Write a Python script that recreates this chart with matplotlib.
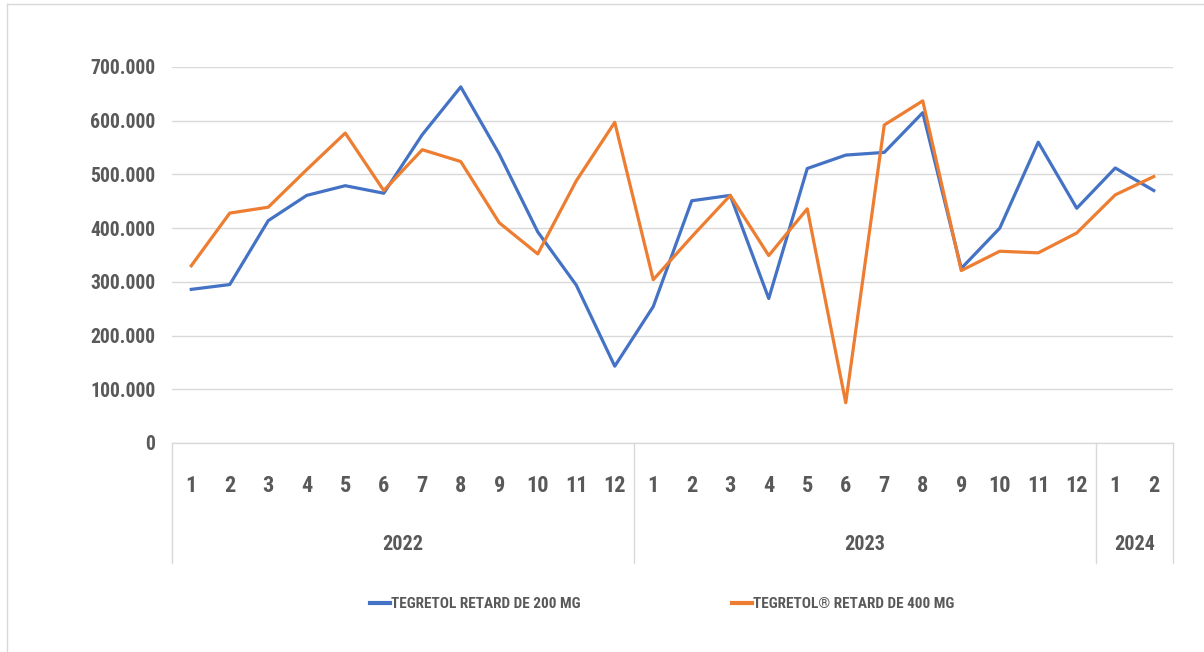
import os
import matplotlib
matplotlib.use("Agg")
import matplotlib.pyplot as plt
import matplotlib.transforms as mtransforms
from matplotlib import font_manager as fm
from matplotlib.lines import Line2D
from matplotlib.ticker import FuncFormatter

# ---- data ----
years = ["2022", "2023", "2024"]
months_per_year = [12, 12, 2]
month_labels = [str(m) for m in range(1, 13)] + [str(m) for m in range(1, 13)] + ["1", "2"]

series_names = ["TEGRETOL RETARD DE 200 MG", "TEGRETOL\u00ae RETARD DE 400 MG"]
tegretol_200 = [286000, 295000, 414000, 461000, 479000, 465000, 574000, 663000, 538000, 393000, 294000, 143000,
                254000, 451000, 461000, 269000, 511000, 536000, 541000, 615000, 325000, 400000, 560000, 437000,
                512000, 470000]
tegretol_400 = [330000, 428000, 439000, 509000, 577000, 470000, 546000, 524000, 410000, 352000, 488000, 597000,
                304000, 384000, 461000, 349000, 436000, 75000, 592000, 637000, 321000, 357000, 354000, 391000,
                462000, 496000]
yticks = [0, 100000, 200000, 300000, 400000, 500000, 600000, 700000]


# ---- pick a narrow bold font if one is installed ----
def pick_font():
    best, best_score = None, -1
    for f in fm.fontManager.ttflist:
        nm = f.name.lower()
        fn = os.path.basename(f.fname).lower()
        stretch = str(f.stretch).lower()
        narrow = ("narrow" in nm or "condensed" in nm or "narrow" in fn or "condensed" in fn
                  or stretch in ("condensed", "semi-condensed", "extra-condensed"))
        if not narrow or "italic" in fn or "oblique" in fn:
            continue
        if "extracondensed" in fn or "extra-condensed" in fn or "ultra" in fn:
            continue
        score = 1
        if "liberation" in nm:
            score += 40
        elif "roboto" in nm:
            score += 30
        elif "open" in nm:
            score += 25
        elif "noto" in nm:
            score += 20
        elif "dejavu" in nm:
            score += 5
        if "semicondensed" in fn:
            score -= 3
        if "bold" in fn and not any(k in fn for k in ("extrabold", "semibold", "black")):
            score += 10
        elif "semibold" in fn:
            score += 8
        if score > best_score:
            best, best_score = f.fname, score
    return best


FONT_FILE = pick_font()


def fp(size):
    if FONT_FILE:
        return fm.FontProperties(fname=FONT_FILE, size=size)
    return fm.FontProperties(family="DejaVu Sans", weight="bold", size=size)


GREY = "#595959"
GRID = "#D9D9D9"
BLUE = "#4472C4"
ORANGE = "#ED7D31"

W, H = 1204, 652
fig = plt.figure(figsize=(W / 100, H / 100), dpi=100)
fig.patch.set_facecolor("white")

# outer chart border (partially cropped in the reference)
fig.add_artist(Line2D([7 / W, 7 / W], [0, 1 - 3.5 / H], color=GRID, lw=1.0))
fig.add_artist(Line2D([7 / W, 1], [1 - 3.5 / H, 1 - 3.5 / H], color=GRID, lw=1.0))

left, right, top, bottom = 172, 1173, 67, 443
ax = fig.add_axes([left / W, 1 - bottom / H, (right - left) / W, (bottom - top) / H])

n = len(month_labels)
x = list(range(n))
ax.plot(x, tegretol_200, color=BLUE, lw=2.3, solid_joinstyle="round", label=series_names[0], zorder=3)
ax.plot(x, tegretol_400, color=ORANGE, lw=2.3, solid_joinstyle="round", label=series_names[1], zorder=3)

ax.set_xlim(-0.5, n - 0.5)
ax.set_ylim(0, 700000)
ax.set_yticks(yticks)
ax.yaxis.set_major_formatter(FuncFormatter(lambda v, p: "0" if v == 0 else f"{int(v):,}".replace(",", ".")))
ax.tick_params(axis="y", length=0, pad=12, labelcolor=GREY)
for lab in ax.get_yticklabels():
    lab.set_fontproperties(fp(14.2))
ax.grid(axis="y", color=GRID, lw=1.0)
ax.set_axisbelow(True)
for s in ["top", "right", "left"]:
    ax.spines[s].set_visible(False)
ax.spines["bottom"].set_color(GRID)
ax.spines["bottom"].set_linewidth(1.0)
ax.set_xticks([])

trans = mtransforms.blended_transform_factory(ax.transData, ax.transAxes)
hpx = bottom - top
month_y = -(486 - bottom) / hpx
year_y = -(545 - bottom) / hpx
sep_y = -(563 - bottom) / hpx

for i, lab in enumerate(month_labels):
    ax.text(i, month_y, lab, transform=trans, ha="center", va="center",
            fontproperties=fp(16), color=GREY)

start = 0
bounds = [-0.5]
for yr, cnt in zip(years, months_per_year):
    center = start - 0.5 + cnt / 2
    ax.text(center, year_y, yr, transform=trans, ha="center", va="center",
            fontproperties=fp(14.5), color=GREY)
    start += cnt
    bounds.append(start - 0.5)
for b in bounds:
    ax.plot([b, b], [0, sep_y], transform=trans, color=GRID, lw=1.0, clip_on=False)

leg = fig.legend(loc="center", bbox_to_anchor=(662 / W, 1 - 604 / H), ncol=2, frameon=False,
                 handlelength=1.3, handletextpad=0.08, columnspacing=9.9, prop=fp(11))
for t in leg.get_texts():
    t.set_color(GREY)
for h in leg.legend_handles:
    h.set_linewidth(3)

fig.savefig("out.png", dpi=100, facecolor="white")
